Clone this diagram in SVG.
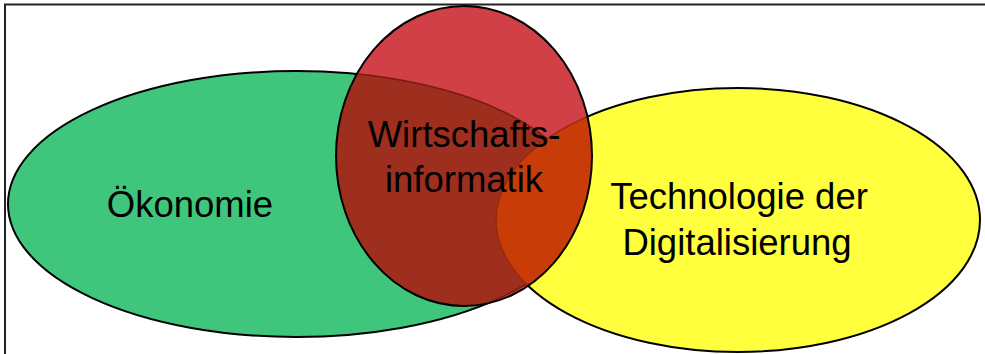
<svg xmlns="http://www.w3.org/2000/svg" width="985" height="354" viewBox="0 0 985 354">
<style>
.lbl{font-family:"Liberation Sans",Arial,sans-serif;font-size:36.5px;fill:#000;text-anchor:middle}
.out{fill:none;stroke:#000;stroke-width:2}
</style>
<defs>
<clipPath id="cRed"><ellipse cx="464" cy="156" rx="128" ry="150"/></clipPath>
</defs>
<rect width="985" height="354" fill="#fff"/>
<path d="M5 354 V4.5 H985" fill="none" stroke="#222" stroke-width="2"/>
<g id="oekonomie">
<ellipse cx="296" cy="204" rx="288" ry="133" fill="#40C67C" stroke="#000" stroke-width="2"/>
</g>
<g id="technologie">
<ellipse cx="738" cy="220" rx="242" ry="132" fill="#FFFF3E" stroke="#000" stroke-width="2"/>
</g>
<g id="wirtschaftsinformatik">
<ellipse cx="464" cy="156" rx="128" ry="150" fill="#D04046"/>
<g clip-path="url(#cRed)">
<ellipse cx="296" cy="204" rx="288" ry="133" fill="#9E2E1E" stroke="#7a1a10" stroke-width="1.5"/>
<ellipse cx="738" cy="220" rx="242" ry="132" fill="#C83C08" stroke="#9a2a08" stroke-width="1.5"/>
</g>
<ellipse cx="464" cy="156" rx="128" ry="150" class="out"/>
</g>
<g id="connectors"/>
<g id="labels">
<text class="lbl" x="190" y="217">Ökonomie</text>
<text class="lbl" x="464" y="147">Wirtschafts-</text>
<text class="lbl" x="464" y="192">informatik</text>
<text class="lbl" x="739" y="209">Technologie der</text>
<text class="lbl" x="737" y="255">Digitalisierung</text>
</g>
</svg>
